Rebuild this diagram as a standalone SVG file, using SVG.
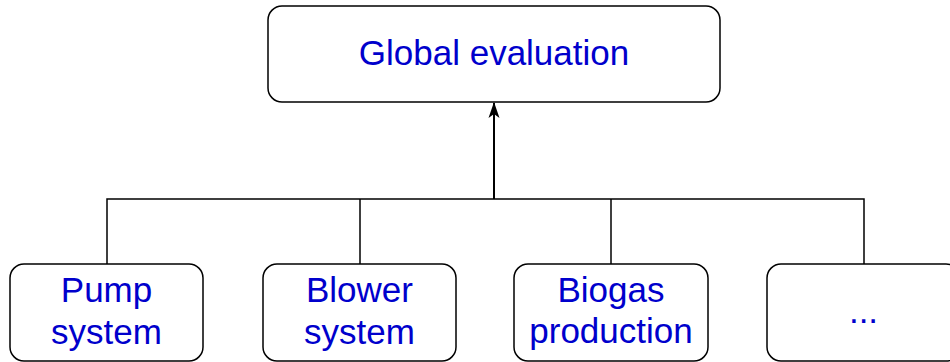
<svg xmlns="http://www.w3.org/2000/svg" width="950" height="362" viewBox="0 0 950 362">
<style>
.box{fill:#fff;stroke:#000;stroke-width:1.5}
.t{font-family:"Liberation Sans",Arial,sans-serif;font-size:35px;fill:#0000CC;text-anchor:middle}
.c{fill:none;stroke:#000;stroke-width:1.5}
.main{stroke-width:2}
</style>
<defs>
<marker id="ah" viewBox="0 0 16 12" refX="15" refY="6" markerWidth="16" markerHeight="12" markerUnits="userSpaceOnUse" orient="auto">
<path d="M0,0.5 L16,6 L0,11.5 L4,6 Z" fill="#000"/>
</marker>
</defs>
<g id="connectors">
<path class="c" d="M107,264 V199 H864 V264"/>
<path class="c" d="M360,264 V199"/>
<path class="c" d="M611,264 V199"/>
<path class="c main" d="M494,199 V103" marker-end="url(#ah)"/>
</g>
<g id="global">
<rect class="box" x="268" y="6" width="452" height="96" rx="14"/>
<text class="t" x="494" y="65">Global evaluation</text>
</g>
<g id="pump">
<rect class="box" x="10" y="264" width="193" height="97" rx="14"/>
<text class="t" x="106.5" y="302">Pump</text>
<text class="t" x="106.5" y="344">system</text>
</g>
<g id="blower">
<rect class="box" x="263" y="264" width="193" height="97" rx="14"/>
<text class="t" x="359.5" y="302">Blower</text>
<text class="t" x="359.5" y="344">system</text>
</g>
<g id="biogas">
<rect class="box" x="514" y="264" width="194" height="97" rx="14"/>
<text class="t" x="611" y="302">Biogas</text>
<text class="t" x="611" y="343">production</text>
</g>
<g id="more">
<rect class="box" x="767" y="264" width="193" height="97" rx="14"/>
<text class="t" x="863.5" y="323">...</text>
</g>
</svg>
